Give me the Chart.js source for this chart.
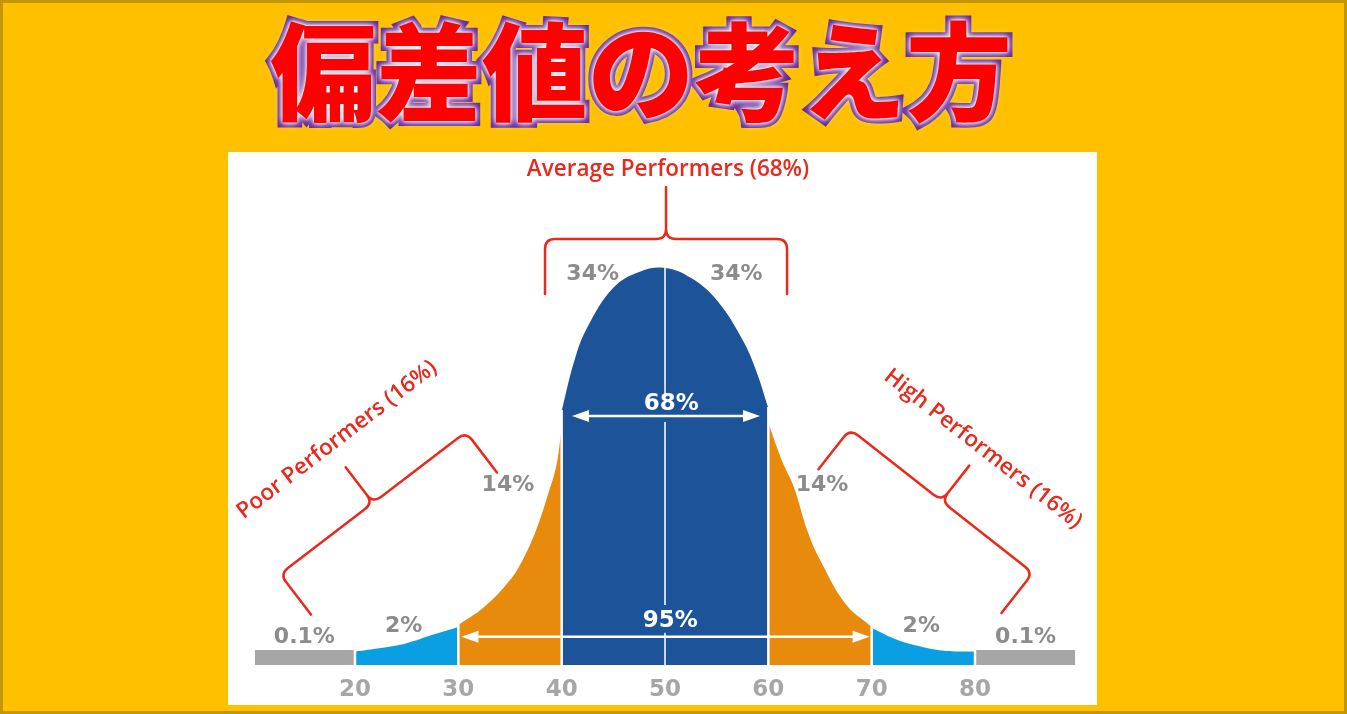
<!DOCTYPE html>
<html>
<head>
<meta charset="utf-8">
<script src="https://cdn.jsdelivr.net/npm/chart.js@4.4.1/dist/chart.umd.min.js"></script>
<style>
    html, body { margin: 0; padding: 0; }
    body { width: 1347px; height: 714px; background: #ffc000; position: relative; overflow: hidden; }
    #frame { position: absolute; left: 0; top: 0; width: 1347px; height: 714px; box-sizing: border-box; border: 3px solid #c49600; }
    #title {
        position: absolute; left: 0; top: 1px; width: 1282px; text-align: center;
        font-family: "Noto Sans CJK JP"; font-weight: 900; font-size: 106px; line-height: 130px;
        color: #ff0000; -webkit-text-stroke: 10px #62259a; paint-order: stroke fill;
        text-shadow: 0 0 2px #fff, 0 0 5px #fff, 0 0 8px #fff;
    }
    #panel { position: absolute; left: 228px; top: 152px; width: 869px; height: 553px; background: #fff; }
</style>
</head>
<body>
<div id="frame"></div>
<div id="title">偏差値の考え方</div>
<div id="panel"><canvas id="curveChart" width="869" height="553"></canvas></div>
<script>
// 偏差値 (score) on x, curve height (peak = 100) on y
const tickLabels = [20, 30, 40, 50, 60, 70, 80];

const tailLeftX = [10.3, 20];
const tailLeftY = [3.8, 3.8];
const lowLeftX = [20, 22.5, 25, 27.5, 30];
const lowLeftY = [3.4, 4.3, 5.5, 7.6, 9.6];
const midLeftX = [30, 32.5, 35, 36.25, 37.5, 38.75, 39.5, 40];
const midLeftY = [10.1, 14.6, 21.4, 26.6, 33.8, 43.6, 50.4, 59.7];
const centerX = [40, 41.25, 42.5, 45, 47.5, 50, 52.5, 55, 57.5, 58.75, 60];
const centerY = [64.0, 76.8, 85.1, 95.0, 99.0, 100, 97.5, 91.9, 81.9, 74.6, 64.7];
const midRightX = [60, 61.25, 62.5, 63.75, 65, 67.5, 70];
const midRightY = [61.0, 51.9, 44.6, 34.0, 26.5, 15.3, 9.6];
const lowRightX = [70, 72.5, 75, 77.5, 80];
const lowRightY = [9.3, 6.3, 4.5, 3.5, 3.4];
const tailRightX = [80, 89.7];
const tailRightY = [3.8, 3.8];

const bandShares = ['0.1%', '2%', '14%', '34%', '34%', '14%', '2%', '0.1%'];
const spanShares = ['68%', '95%'];
const groupNames = ['Poor Performers (16%)', 'Average Performers (68%)', 'High Performers (16%)'];

const bands = [
    [tailLeftX, tailLeftY, '#a6a6a6'],
    [lowLeftX, lowLeftY, '#0a9fe3'],
    [midLeftX, midLeftY, '#e88a0c'],
    [centerX, centerY, '#1d5499'],
    [midRightX, midRightY, '#e88a0c'],
    [lowRightX, lowRightY, '#0a9fe3'],
    [tailRightX, tailRightY, '#a6a6a6']
];

const RED = '#e8291c';

// 注記: 帯の区切り、中心線、矢印、割合ラベル、括弧
const annotate = {
    id: 'annotate',
    afterDatasetsDraw(chart) {
        const { ctx, scales: { x, y } } = chart;
        const X = v => x.getPixelForValue(v);
        const Y = v => y.getPixelForValue(v);
        ctx.save();

        // white gaps between bands
        ctx.strokeStyle = '#ffffff';
        ctx.lineWidth = 2.5;
        for (let i = 0; i < bands.length - 1; i++) {
            const [ax, ay] = bands[i];
            const [, by] = bands[i + 1];
            const edge = ax[ax.length - 1];
            const top = Math.max(ay[ay.length - 1], by[0]);
            ctx.beginPath();
            ctx.moveTo(X(edge), Y(0) + 1);
            ctx.lineTo(X(edge), Y(top) - 1);
            ctx.stroke();
        }

        // center line at the mean
        const peak = Math.max(...centerY);
        ctx.strokeStyle = '#c9d8ee';
        ctx.lineWidth = 2;
        [[0, 8.1], [15.1, 61.2], [68.0, peak]].forEach(([a, b]) => {
            ctx.beginPath();
            ctx.moveTo(X(50), Y(a));
            ctx.lineTo(X(50), Y(b));
            ctx.stroke();
        });

        // double arrows
        const arrow = (x1, x2, yv) => {
            const a = X(x1), b = X(x2), c = Y(yv);
            ctx.strokeStyle = '#ffffff';
            ctx.fillStyle = '#ffffff';
            ctx.lineWidth = 2.5;
            ctx.beginPath();
            ctx.moveTo(a + 10, c);
            ctx.lineTo(b - 10, c);
            ctx.stroke();
            [[a, 1], [b, -1]].forEach(([p, d]) => {
                ctx.beginPath();
                ctx.moveTo(p, c);
                ctx.lineTo(p + d * 17, c - 6);
                ctx.lineTo(p + d * 17, c + 6);
                ctx.closePath();
                ctx.fill();
            });
        };
        arrow(41, 59.2, 62.7);
        arrow(30.3, 69.8, 7.1);

        // share labels
        ctx.textAlign = 'center';
        ctx.textBaseline = 'middle';
        ctx.font = 'bold 22px "DejaVu Sans"';
        ctx.fillStyle = '#8c8c8c';
        const bandPos = [[15.1, 7.1], [24.7, 9.8], [34.8, 45.3], [43.0, 98.4], [56.9, 98.4], [65.2, 45.3], [74.8, 9.8], [84.9, 7.1]];
        bandShares.forEach((t, i) => ctx.fillText(t, X(bandPos[i][0]), Y(bandPos[i][1])));
        ctx.font = 'bold 23px "DejaVu Sans"';
        ctx.fillStyle = '#ffffff';
        ctx.fillText(spanShares[0], X(50.6), Y(65.6));
        ctx.fillText(spanShares[1], X(50.5), Y(11.1));

        // braces
        const brace = (s1, h1, s2, h2, arm, spike) => {
            const c1 = [X(s1), Y(h1)], c2 = [X(s2), Y(h2)];
            const len = Math.hypot(c2[0] - c1[0], c2[1] - c1[1]);
            const u = [(c2[0] - c1[0]) / len, (c2[1] - c1[1]) / len];
            const n = [u[1], -u[0]];
            const m = [(c1[0] + c2[0]) / 2, (c1[1] + c2[1]) / 2];
            const r = 10;
            const P = (p, v, k) => [p[0] + v[0] * k, p[1] + v[1] * k];
            ctx.beginPath();
            let p = P(c1, n, -arm); ctx.moveTo(p[0], p[1]);
            p = P(c1, n, -r); ctx.lineTo(p[0], p[1]);
            p = P(c1, u, r); ctx.quadraticCurveTo(c1[0], c1[1], p[0], p[1]);
            p = P(m, u, -r); ctx.lineTo(p[0], p[1]);
            p = P(m, n, r); ctx.quadraticCurveTo(m[0], m[1], p[0], p[1]);
            p = P(m, n, spike); ctx.lineTo(p[0], p[1]);
            p = P(m, n, r); ctx.moveTo(p[0], p[1]);
            p = P(m, u, r); ctx.quadraticCurveTo(m[0], m[1], p[0], p[1]);
            p = P(c2, u, -r); ctx.lineTo(p[0], p[1]);
            p = P(c2, n, -r); ctx.quadraticCurveTo(c2[0], c2[1], p[0], p[1]);
            p = P(c2, n, -arm); ctx.lineTo(p[0], p[1]);
            ctx.stroke();
        };
        ctx.strokeStyle = RED;
        ctx.lineWidth = 2.5;
        ctx.lineJoin = 'round';
        ctx.lineCap = 'round';
        brace(38.39, 107.3, 61.81, 107.3, 55, 52);
        brace(12.74, 22.9, 30.74, 58.7, 51, 45);
        brace(67.90, 59.4, 85.61, 23.2, 51, 45);

        // group names
        ctx.fillStyle = RED;
        ctx.font = '600 22.5px "Open Sans"';
        const rotated = (t, s, h, deg) => {
            ctx.save();
            ctx.translate(X(s), Y(h));
            ctx.rotate(deg * Math.PI / 180);
            ctx.fillText(t, 0, 0);
            ctx.restore();
        };
        rotated(groupNames[0], 18.26, 56.7, -37.5);
        rotated(groupNames[1], 50.29, 124.7, 0);
        rotated(groupNames[2], 80.77, 54.4, 38);

        ctx.restore();
    }
};

const ctx = document.getElementById('curveChart').getContext('2d');
new Chart(ctx, {
    type: 'line',
    data: {
        datasets: bands.map(([xs, ys, color]) => ({
            data: xs.map((v, i) => ({ x: v, y: ys[i] })),
            backgroundColor: color,
            borderWidth: 0,
            pointRadius: 0,
            fill: 'origin',
            tension: 0.4
        }))
    },
    options: {
        responsive: false,
        animation: false,
        devicePixelRatio: 1,
        layout: { padding: { left: 23.67, right: 18.67, top: 0, bottom: 0 } },
        plugins: { legend: { display: false }, tooltip: { enabled: false } },
        scales: {
            x: {
                type: 'linear',
                min: 10,
                max: 90,
                border: { display: false },
                grid: { display: false, drawTicks: false },
                afterFit: scale => { scale.height = 40; },
                ticks: {
                    stepSize: 10,
                    autoSkip: false,
                    maxRotation: 0,
                    padding: 11,
                    color: '#a6a6a6',
                    font: { family: 'DejaVu Sans', size: 23, weight: 'bold' },
                    callback: v => tickLabels.includes(v) ? String(v) : ''
                }
            },
            y: { display: false, min: 0, max: 129.2 }
        }
    },
    plugins: [annotate]
});
</script>
</body>
</html>
